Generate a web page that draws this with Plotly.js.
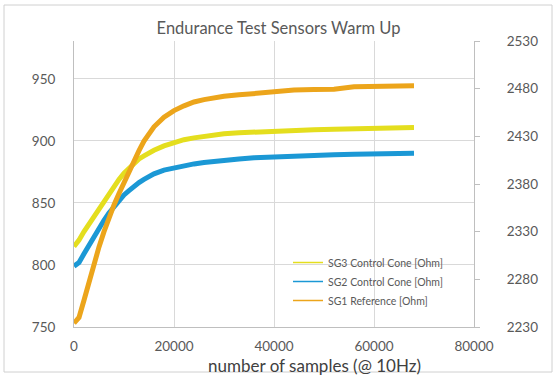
<!DOCTYPE html>
<html>
<head>
<meta charset="utf-8">
<script src="https://cdn.plot.ly/plotly-3.0.1.min.js"></script>
<style>html,body{margin:0;padding:0;background:#fff;}#chart{width:557px;height:379px;}</style>
</head>
<body>
<div id="chart"></div>
<script>
// sample index (number of samples @ 10Hz)
const samples = [0, 1000, 2000, 3000, 4000, 5000, 6000, 7000, 8000, 9000, 10000, 11000, 12000, 13000, 14000, 15000, 16000, 18000, 20000, 22000, 24000, 26000, 28000, 30000, 33000, 36000, 40000, 44000, 48000, 52000, 56000, 60000, 64000, 68000];
// SG3 Control Cone [Ohm] (left axis)
const sg3 = [815, 820, 827, 833, 839, 846, 852, 858, 864, 869, 874, 878, 882, 885.5, 888, 890.5, 892.5, 896, 899, 901, 902.5, 903.8, 905, 905.8, 906.6, 907.3, 908, 908.6, 909.1, 909.5, 909.9, 910.2, 910.5, 910.8];
// SG2 Control Cone [Ohm] (left axis)
const sg2 = [799, 802, 809, 816, 823, 830, 836, 842, 847, 852, 856.5, 860, 863.5, 866.5, 869, 871.5, 873.5, 876.5, 878.5, 880, 881.5, 882.7, 883.7, 884.5, 885.5, 886.5, 887.3, 887.9, 888.5, 888.9, 889.3, 889.6, 889.9, 890.1];
// SG1 Reference [Ohm] (right axis)
const sg1 = [2234, 2240, 2258, 2278, 2297, 2314, 2330, 2345, 2358, 2370, 2382, 2393, 2404, 2415, 2425, 2433, 2440, 2450, 2457, 2462, 2466, 2468.5, 2470.5, 2472, 2473.5, 2475, 2476, 2478.5, 2479, 2479.5, 2482, 2482.5, 2483, 2483];

const names = ['SG3 Control Cone [Ohm]', 'SG2 Control Cone [Ohm]', 'SG1 Reference [Ohm]'];
const colors = ['#E4DE1E', '#1B98D5', '#ECA51B'];
const xTitle = 'number of samples (@ 10Hz)';

const font = 'Lato, "Open Sans", sans-serif';
const series = [sg3, sg2, sg1];
const axes = ['y', 'y', 'y2'];
const traces = [];
// plotted series (thick lines), legend shown via thin-line entries below
series.forEach((s, i) => traces.push({x: samples, y: s, name: names[i], type: 'scatter', mode: 'lines',
  line: {color: colors[i], width: 5}, yaxis: axes[i], showlegend: false}));
// legend entries with thinner lines, as in the reference legend
series.forEach((s, i) => traces.push({x: [null], y: [null], name: names[i], type: 'scatter', mode: 'lines',
  line: {color: colors[i], width: 1.5}, yaxis: axes[i], showlegend: true, hoverinfo: 'skip'}));

const W = 557, H = 379, L = 74, R = 83, T = 41, B = 52;
const pw = W - L - R, ph = H - T - B;

const layout = {
  width: W, height: H,
  margin: {l: L, r: R, t: T, b: B, pad: 0},
  paper_bgcolor: '#ffffff', plot_bgcolor: '#ffffff',
  font: {family: font, color: '#595959', size: 13.5},
  title: {text: 'Endurance Test Sensors Warm Up', font: {family: font, size: 16.5, color: '#595959'},
          x: 0.5, xref: 'container', y: 1 - 28 / H, yref: 'container', yanchor: 'middle'},
  showlegend: true,
  legend: {x: (288 - L) / pw, y: (327 - 248) / ph, xanchor: 'left', yanchor: 'top',
           bgcolor: 'rgba(0,0,0,0)', font: {family: font, size: 10.5, color: '#595959'},
           tracegroupgap: 0, itemwidth: 30},
  xaxis: {range: [0, 80000], dtick: 20000, tick0: 0, showgrid: true, gridcolor: '#D9D9D9', gridwidth: 1,
          zeroline: false, showline: true, linecolor: '#BFBFBF', linewidth: 1, ticks: '',
          tickformat: 'd', ticklabelstandoff: 7, tickfont: {size: 13.5, color: '#595959'}},
  yaxis: {range: [750, 980.6], tick0: 750, dtick: 50, showgrid: true, gridcolor: '#D9D9D9', gridwidth: 1,
          zeroline: false, showline: true, linecolor: '#BFBFBF', linewidth: 1, ticks: '',
          ticklabelstandoff: 15, tickfont: {size: 13.5, color: '#595959'}},
  yaxis2: {range: [2230, 2530], tick0: 2230, dtick: 50, overlaying: 'y', side: 'right', showgrid: false,
           zeroline: false, showline: true, linecolor: '#BFBFBF', linewidth: 1, ticks: 'outside', ticklen: 5,
           tickcolor: '#BFBFBF', ticklabelstandoff: 24, tickfont: {size: 13.5, color: '#595959'}},
  annotations: [{text: xTitle, xref: 'paper', yref: 'paper', x: (314 - L) / pw, y: (327 - 366) / ph,
                 xanchor: 'center', yanchor: 'middle', showarrow: false,
                 font: {family: font, size: 17, color: '#404040'}}],
  shapes: [{type: 'rect', xref: 'paper', yref: 'paper',
            x0: (4 - L) / pw, x1: (552 - L) / pw, y0: (327 - 372) / ph, y1: (327 - 5) / ph,
            line: {color: '#D0D0D0', width: 1}, fillcolor: 'rgba(0,0,0,0)', layer: 'below'}]
};

Plotly.newPlot('chart', traces, layout, {displayModeBar: false, staticPlot: true});
</script>
</body>
</html>
